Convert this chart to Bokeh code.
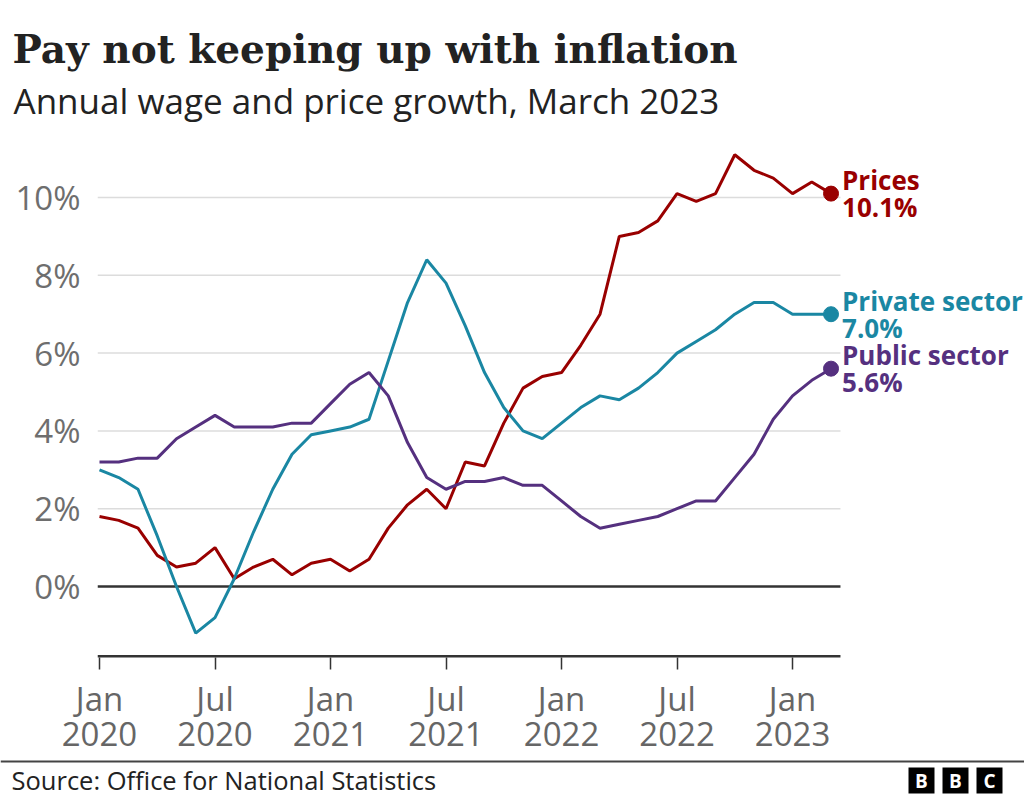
from bokeh.plotting import figure
from bokeh.layouts import column
from bokeh.core.properties import value
from bokeh.models import (Range1d, FixedTicker, PrintfTickFormatter, Label,
                          LabelSet, ColumnDataSource, BoxAnnotation)
from bokeh.embed import file_html
from bokeh.resources import INLINE

# ---- data (monthly, Jan 2020 .. Mar 2023) ----
month_index = list(range(39))
prices = [1.8, 1.7, 1.5, 0.8, 0.5, 0.6, 1.0, 0.2, 0.5, 0.7, 0.3, 0.6,
          0.7, 0.4, 0.7, 1.5, 2.1, 2.5, 2.0, 3.2, 3.1, 4.2, 5.1, 5.4,
          5.5, 6.2, 7.0, 9.0, 9.1, 9.4, 10.1, 9.9, 10.1, 11.1, 10.7, 10.5,
          10.1, 10.4, 10.1]
private_sector = [3.0, 2.8, 2.5, 1.3, 0.0, -1.2, -0.8, 0.2, 1.4, 2.5, 3.4, 3.9,
                  4.0, 4.1, 4.3, 5.8, 7.3, 8.4, 7.8, 6.7, 5.5, 4.6, 4.0, 3.8,
                  4.2, 4.6, 4.9, 4.8, 5.1, 5.5, 6.0, 6.3, 6.6, 7.0, 7.3, 7.3,
                  7.0, 7.0, 7.0]
public_sector = [3.2, 3.2, 3.3, 3.3, 3.8, 4.1, 4.4, 4.1, 4.1, 4.1, 4.2, 4.2,
                 4.7, 5.2, 5.5, 4.9, 3.7, 2.8, 2.5, 2.7, 2.7, 2.8, 2.6, 2.6,
                 2.2, 1.8, 1.5, 1.6, 1.7, 1.8, 2.0, 2.2, 2.2, 2.8, 3.4, 4.3,
                 4.9, 5.3, 5.6]
series_names = ["Prices", "Private sector", "Public sector"]
series_colors = ["#990000", "#1a87a3", "#55307f"]
x_tick_positions = [0, 6, 12, 18, 24, 30, 36]
x_tick_labels = ["Jan\n2020", "Jul\n2020", "Jan\n2021", "Jul\n2021",
                 "Jan\n2022", "Jul\n2022", "Jan\n2023"]
y_ticks = [0, 2, 4, 6, 8, 10]

SANS = "Open Sans"
W = 1024
HEADER_H, MAIN_H, FOOTER_H = 128, 630, 42


def blank_fig(h):
    f = figure(width=W, height=h, output_backend="svg", toolbar_location=None,
               x_axis_type=None, y_axis_type=None,
               x_range=Range1d(0, W), y_range=Range1d(0, h),
               min_border_left=0, min_border_right=0,
               min_border_top=0, min_border_bottom=0)
    f.frame_align = False
    f.outline_line_color = None
    f.background_fill_color = "white"
    f.border_fill_color = "white"
    f.grid.visible = False
    return f


# ---------------- header ----------------
header = blank_fig(HEADER_H)
header.add_layout(Label(x=12, y=48, x_units="canvas", y_units="canvas",
                        text="Pay not keeping up with inflation",
                        text_font="DejaVu Serif", text_font_style="bold",
                        text_font_size="39px", text_color="#222222",
                        text_baseline="middle"))
header.add_layout(Label(x=13, y=100, x_units="canvas", y_units="canvas",
                        text="Annual wage and price growth, March 2023",
                        text_font=SANS, text_font_size="35px",
                        text_color="#222222", text_baseline="middle"))

# ---------------- main chart ----------------
X0, Y0 = -0.104, -1.825
p = figure(width=W, height=MAIN_H, output_backend="svg", toolbar_location=None,
           x_range=Range1d(X0, 48.05), y_range=Range1d(Y0, 11.774),
           min_border_left=97, min_border_right=0,
           min_border_top=0, min_border_bottom=101)
p.frame_align = False
p.outline_line_color = None
p.background_fill_color = "white"
p.border_fill_color = "white"
p.grid.visible = False

# y axis
p.yaxis.ticker = FixedTicker(ticks=y_ticks)
p.yaxis.formatter = PrintfTickFormatter(format="%d%%")
p.yaxis.axis_line_color = None
p.yaxis.major_tick_line_color = None
p.yaxis.minor_tick_line_color = None
p.yaxis.major_tick_out = 0
p.yaxis.major_tick_in = 0
p.yaxis.major_label_standoff = 17
p.yaxis.major_label_text_font = SANS
p.yaxis.major_label_text_font_size = "33px"
p.yaxis.major_label_text_color = "#6e6e6e"

# x axis (line drawn below as a segment that stops at the data end)
p.xaxis.ticker = FixedTicker(ticks=x_tick_positions)
p.xaxis.major_label_overrides = dict(zip(x_tick_positions, x_tick_labels))
p.xaxis.axis_line_color = None
p.xaxis.major_tick_line_color = "#333333"
p.xaxis.major_tick_line_width = 1.5
p.xaxis.major_tick_out = 12
p.xaxis.major_tick_in = 0
p.xaxis.minor_tick_line_color = None
p.xaxis.major_label_standoff = 6
p.xaxis.major_label_text_font = SANS
p.xaxis.major_label_text_font_size = "33px"
p.xaxis.major_label_text_color = "#666666"
p.xaxis.major_label_text_line_height = 0.78

x_end = month_index[-1] + 0.49
grid_vals = [t for t in y_ticks if t != 0]
p.segment(x0=[X0] * len(grid_vals), x1=[x_end] * len(grid_vals),
          y0=grid_vals, y1=grid_vals, line_color="#dcdcdc", line_width=1.5)
p.segment(x0=[X0], x1=[x_end], y0=[0], y1=[0], line_color="#333333", line_width=2.5)
p.segment(x0=[X0], x1=[x_end], y0=[Y0], y1=[Y0], line_color="#333333", line_width=5)

# lines
all_series = [prices, private_sector, public_sector]
for vals, col in zip(all_series, series_colors):
    p.line(month_index, vals, line_color=col, line_width=3)

# end dots and labels
last_x = [month_index[-1]] * 3
last_y = [s[-1] for s in all_series]
p.scatter(last_x, last_y, size=15, color=series_colors)
lab_src = ColumnDataSource(dict(
    x=last_x, y=last_y,
    text=[f"{n}\n{v:.1f}%" for n, v in zip(series_names, last_y)],
    color=series_colors))
p.add_layout(LabelSet(x="x", y="y", text="text", source=lab_src, x_offset=11,
                      text_color="color", text_font=value(SANS),
                      text_font_style="bold", text_font_size="26px",
                      text_baseline="middle", text_line_height=0.74))

# ---------------- footer ----------------
footer = blank_fig(FOOTER_H)
footer.add_layout(BoxAnnotation(left=0, right=W, top=2, bottom=4,
                                left_units="canvas", right_units="canvas",
                                top_units="canvas", bottom_units="canvas",
                                fill_color="#444444", fill_alpha=1, line_color=None))
footer.add_layout(Label(x=11, y=21, x_units="canvas", y_units="canvas",
                        text="Source: Office for National Statistics",
                        text_font=SANS, text_font_size="25.5px",
                        text_color="#222222", text_baseline="middle"))
for i, letter in enumerate(["B", "B", "C"]):
    left = 908 + i * 34
    footer.add_layout(BoxAnnotation(left=left, right=left + 26, top=9, bottom=35,
                                    left_units="canvas", right_units="canvas",
                                    top_units="canvas", bottom_units="canvas",
                                    fill_color="black", fill_alpha=1, line_color=None))
    footer.add_layout(Label(x=left + 13, y=22, x_units="canvas", y_units="canvas",
                            text=letter, text_font=SANS, text_font_style="bold",
                            text_font_size="19px", text_color="white",
                            text_align="center", text_baseline="middle"))

layout = column(header, p, footer, spacing=0)
open("out.html", "w").write(file_html(layout, INLINE))
